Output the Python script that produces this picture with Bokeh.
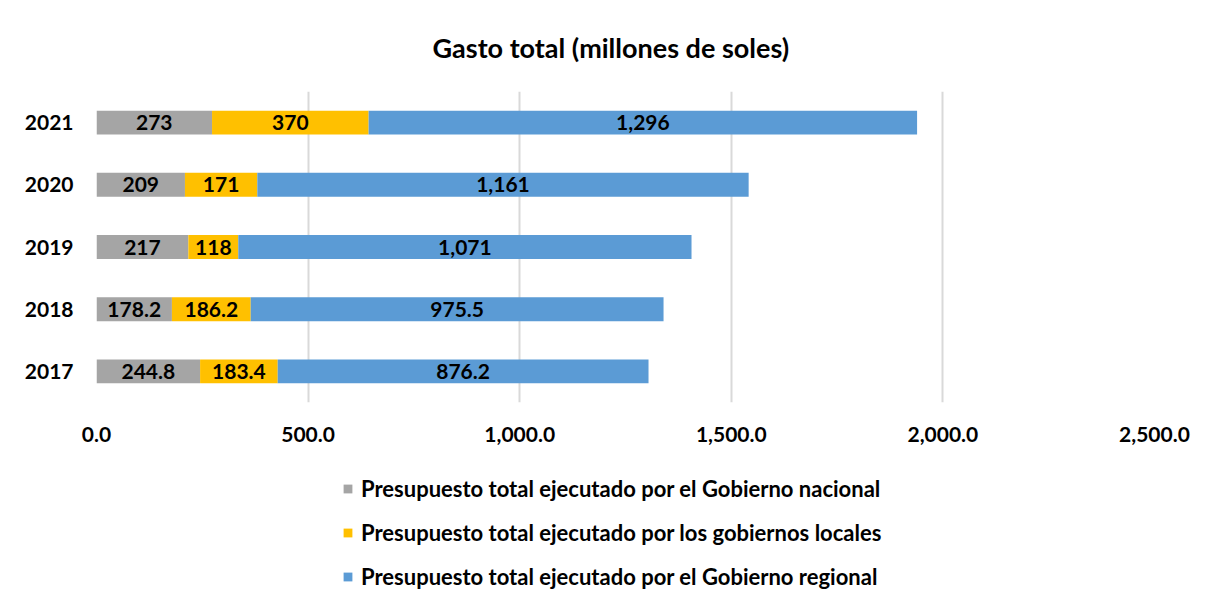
from bokeh.plotting import figure
from bokeh.layouts import column
from bokeh.models import (Legend, LegendItem, FactorRange, Range1d, NumeralTickFormatter,
                          ColumnDataSource, FixedTicker)
from bokeh.core.properties import value
from bokeh.embed import file_html
from bokeh.resources import INLINE

years = ["2017", "2018", "2019", "2020", "2021"]
nacional = [244.8, 178.2, 217, 209, 273]
locales = [183.4, 186.2, 118, 171, 370]
regional = [876.2, 975.5, 1071, 1161, 1296]
series_keys = ["nacional", "locales", "regional"]
series_names = [
    "Presupuesto total ejecutado por el Gobierno nacional",
    "Presupuesto total ejecutado por los gobiernos locales",
    "Presupuesto total ejecutado por el Gobierno regional",
]
colors = ["#a5a5a5", "#ffc000", "#5b9bd5"]
x_ticks = [0, 500, 1000, 1500, 2000, 2500]

FONT = "Lato"

def fmt(v):
    return f"{v:,.0f}" if float(v).is_integer() else f"{v:,.1f}"

data = dict(years=years, nacional=nacional, locales=locales, regional=regional)
src = ColumnDataSource(data)

p = figure(width=1216, height=452,
           y_range=FactorRange(*years, range_padding=0),
           x_range=Range1d(0, 2500),
           output_backend="svg", toolbar_location=None,
           min_border_left=96, min_border_right=62, min_border_top=90,
           min_border_bottom=50)

renderers = p.hbar_stack(series_keys, y="years", height=0.385, color=colors,
                         source=src, line_color=None)

# segment labels
lx, ly, lt = [], [], []
for i, y in enumerate(years):
    left = 0
    for arr in (nacional, locales, regional):
        v = arr[i]
        lx.append(left + v / 2)
        ly.append(y)
        lt.append(fmt(v))
        left += v
p.text(x=lx, y=ly, text=lt, text_align="center", text_baseline="middle",
       text_font=value(FONT), text_font_style="bold", text_font_size="21px",
       text_color="black")

p.title.text = "Gasto total (millones de soles)"
p.title.align = "left"
p.title.offset = 336
p.title.text_font = FONT
p.title.text_font_size = "27px"
p.title.text_font_style = "bold"
p.title.text_color = "black"
p.title.standoff = 56

p.xaxis.ticker = FixedTicker(ticks=x_ticks)
p.xaxis.formatter = NumeralTickFormatter(format="0,0.0")
for ax in (p.xaxis[0], p.yaxis[0]):
    ax.axis_line_color = None
    ax.major_tick_line_color = None
    ax.minor_tick_line_color = None
    ax.major_label_text_font = FONT
    ax.major_label_text_font_style = "bold"
    ax.major_label_text_font_size = "21px"
    ax.major_label_text_color = "black"
p.xaxis.major_label_standoff = 18
p.yaxis.major_label_standoff = 17

p.xgrid.grid_line_color = "#d9d9d9"
p.xgrid.grid_line_width = 2
p.ygrid.grid_line_color = None
p.outline_line_color = None

# legend figure (its bars are hidden outside the visible range; only the legend shows)
p2 = figure(width=1216, height=155, x_range=Range1d(10000, 10001),
            y_range=FactorRange(*years),
            x_axis_location=None, y_axis_location=None,
            output_backend="svg", toolbar_location=None,
            min_border=0, min_border_left=0, min_border_right=0,
            min_border_top=0, min_border_bottom=0)
p2.grid.visible = False
p2.outline_line_color = None
leg_renderers = p2.hbar_stack(series_keys, y="years", height=0.0001, color=colors,
                              source=src, line_color=None)

legend = Legend(items=[LegendItem(label=n, renderers=[r]) for n, r in zip(series_names, leg_renderers)],
                orientation="vertical", location=(246, 17),
                label_text_font=FONT, label_text_font_style="bold",
                label_text_font_size="22px", label_text_color="black",
                label_height=24, glyph_width=11, glyph_height=11, spacing=17,
                label_standoff=8, border_line_color=None, padding=0, margin=0,
                background_fill_alpha=0)
p2.add_layout(legend, "center")

layout = column(p, p2, spacing=0)
open("out.html", "w").write(file_html(layout, INLINE))
